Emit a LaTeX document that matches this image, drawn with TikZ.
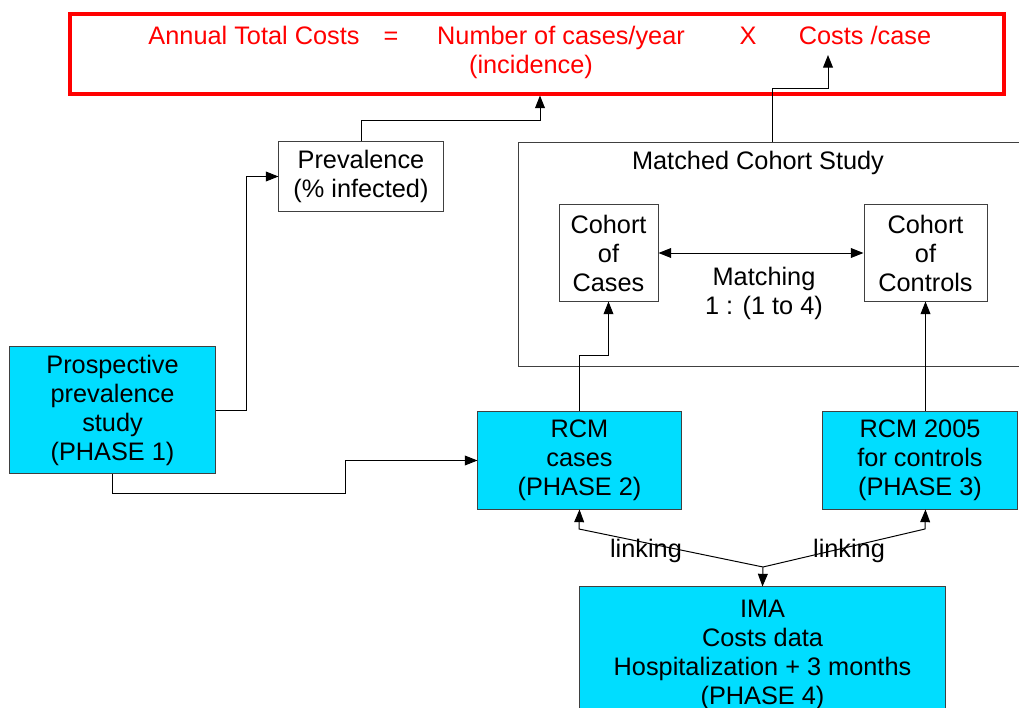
\documentclass[tikz,border=0pt]{standalone}
\usepackage{fontspec}
\setmainfont{Liberation Sans}
\usetikzlibrary{arrows.meta}
\definecolor{phasecyan}{RGB}{0,221,255}
\definecolor{costred}{RGB}{255,0,0}

\begin{document}
\begin{tikzpicture}[x=0.025cm,y=-0.025cm,
  every node/.style={font=\fontsize{18}{20.6}\selectfont, inner sep=0pt},
  phasebox/.style={draw=black!75, line width=0.7pt, fill=phasecyan, align=center},
  whitebox/.style={draw=black!75, line width=0.7pt, align=center},
  redtext/.style={text=costred, anchor=base},
  arr/.style={line width=0.7pt, -{Triangle[length=9pt,width=7pt]}},
  arrs/.style={line width=0.7pt, {Triangle[length=9pt,width=7pt]}-{Triangle[length=9pt,width=7pt]}}]
\useasboundingbox (0,0) rectangle (1019,708);
\clip (0,0) rectangle (1019,708);

\node [draw=costred, line width=2.6pt, minimum width=23.35cm, minimum height=2cm] (total) at (537,54) {};
\node [redtext] (atc) at (254,45) {Annual Total Costs};
\node [redtext] (eq) at (391,45) {=};
\node [redtext] (ncy) at (561,45) {Number of cases/year};
\node [redtext] (inc) at (531,74) {(incidence)};
\node [redtext] (times) at (748,45) {X};
\node [redtext] (cpc) at (865,45) {Costs /case};
\coordinate (costtip) at (828,55);

\node [whitebox, minimum width=4.1cm, minimum height=1.725cm] (prev) at (361,176.5) {Prevalence\\(\% infected)};

\node [whitebox, minimum width=12.65cm, minimum height=5.575cm] (mcs) at (772,254.5) {};
\node (mcstitle) at (758,163) {Matched Cohort Study};
\node [whitebox, minimum width=2.475cm, minimum height=2.4cm] (coc) at (608.5,253) {Cohort\\of\\Cases};
\node [whitebox, minimum width=3.075cm, minimum height=2.4cm] (ctrl) at (925.5,253) {Cohort\\of\\Controls};
\node [align=center] (match) at (764,293) {Matching\\1 : (1 to 4)};

\node [phasebox, minimum width=5.125cm, minimum height=3.15cm] (prosp) at (112.5,410) {Prospective\\prevalence\\study\\(PHASE 1)};
\node [phasebox, minimum width=5.075cm, minimum height=2.425cm] (rcm) at (579.5,460.5) {RCM\\cases\\(PHASE 2)};
\node [phasebox, minimum width=4.85cm, minimum height=2.425cm] (rc5) at (920,460.5) {RCM 2005\\for controls\\(PHASE 3)};
\node [phasebox, minimum width=9.125cm, minimum height=3.4cm] (ima) at (762.5,655) {IMA\\Costs data\\Hospitalization + 3 months\\(PHASE 4)};

\coordinate (link) at (763,567);
\node (lk1) at (646,551) {linking};
\node (lk2) at (849,551) {linking};

\draw [arr] (prev.north) |- (540,120) -- (540,95.5);
\draw [arr] (mcs.north) |- (828,88) -- (costtip);
\draw [arr] (prosp.east) -- ++(31,0) |- (prev.west);
\draw [arr] (prosp.south) -- ++(0,20) -- ++(233,0) |- (rcm.west);
\draw [arr] (rcm.north) -- ++(0,-56) -| (coc.south);
\draw [arr] (ctrl.south |- rc5.north) -- (ctrl.south);
\draw [arrs] (coc.east) -- (ctrl.west);
\draw [arr] (link) -- ++(-184,-38) -- (rcm.south);
\draw [arr] (link) -- ++(162,-38) -- (rc5.south -| ctrl.south);
\draw [arr] (link) -- (ima.north);
\end{tikzpicture}
\end{document}
